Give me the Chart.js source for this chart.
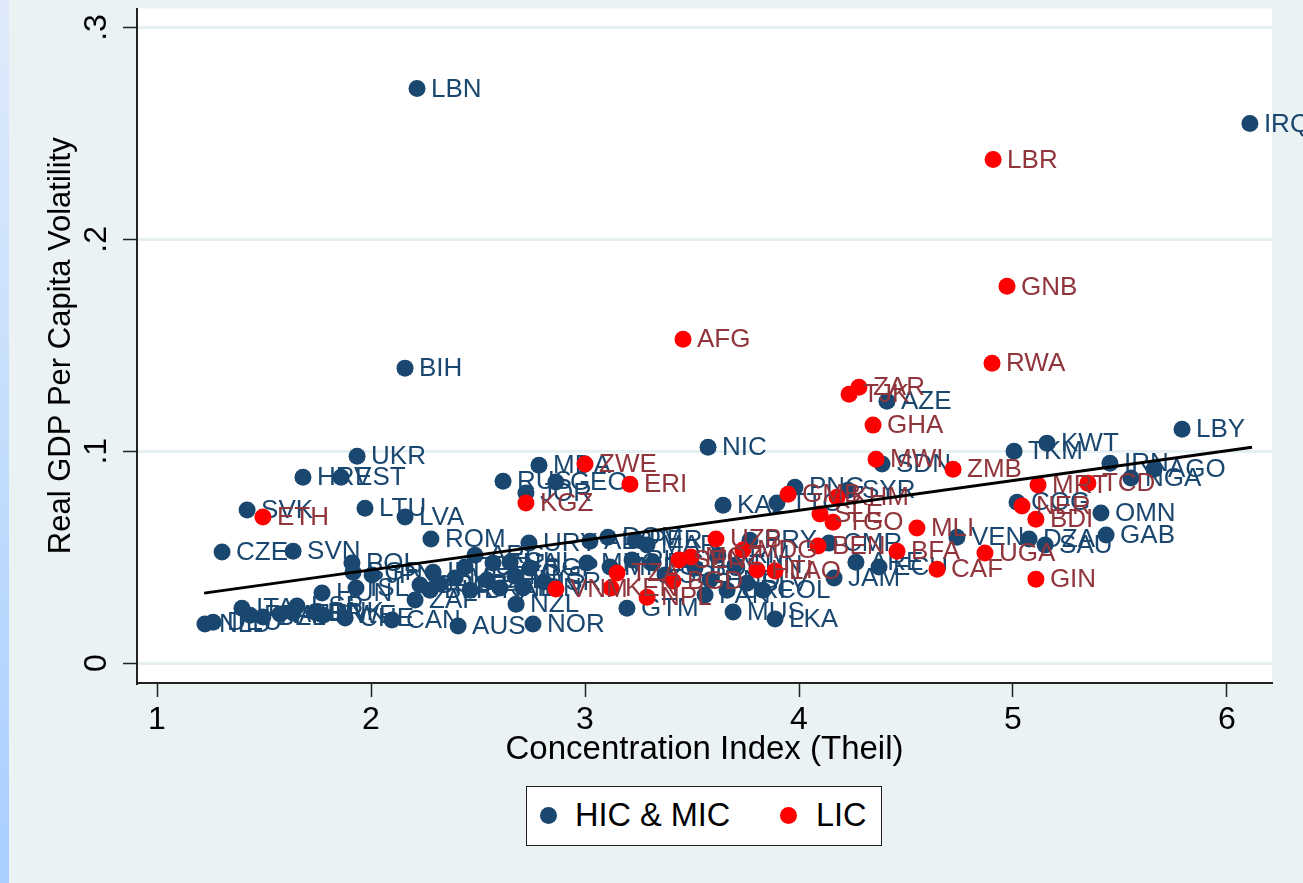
<!DOCTYPE html>
<html>
<head>
<meta charset="utf-8">
<script src="https://cdn.jsdelivr.net/npm/chart.js@4.4.1/dist/chart.umd.min.js"></script>
<style>
  html, body { margin: 0; padding: 0; background: #eaf2f3; }
  #wrap { position: relative; width: 1303px; height: 883px; overflow: hidden; }
  #strip { position: absolute; left: 0; top: 0; width: 9px; height: 883px; background: linear-gradient(#dfebfb, #a8cfff); }
  #legend { position: absolute; left: 526px; top: 786px; width: 356px; height: 60px; box-sizing: border-box;
            background: #fff; border: 1.5px solid #222; font: 32.5px "Liberation Sans", Arial, sans-serif; color: #000; }
  #legend .dot { position: absolute; top: 20px; width: 17px; height: 17px; border-radius: 50%; }
  #legend .txt { position: absolute; top: 9px; line-height: 38px; white-space: nowrap; }
</style>
</head>
<body>
<div id="wrap">
  <canvas id="myChart" width="1303" height="883"></canvas>
  <div id="strip"></div>
  <div id="legend">
    <span class="dot" style="left:13px;background:#1a476f"></span><span class="txt" style="left:48px">HIC &amp; MIC</span>
    <span class="dot" style="left:253px;background:#ff0000"></span><span class="txt" style="left:289px">LIC</span>
  </div>
</div>
<script>
(function () {
  'use strict';

  // HIC & MIC countries
  var micCodes = ['LBN', 'IRQ', 'BIH', 'UKR', 'HRV', 'EST', 'SVK', 'LTU', 'LVA', 'CZE', 'SVN', 'ROM',
    'RUS', 'JOR', 'GEO', 'MDA', 'NIC', 'KAZ', 'TTO', 'PNG', 'SYR', 'AZE', 'SDN', 'TKM', 'KWT', 'LBY',
    'IRN', 'NGA', 'AGO', 'COG', 'OMN', 'GAB', 'DZA', 'SAU', 'VEN', 'CMR', 'ARE', 'ECU', 'JAM', 'LKA',
    'MUS', 'GTM', 'NZL', 'NOR', 'AUS', 'CAN', 'ZAF', 'HUN', 'POL', 'BGR', 'JPN', 'ISL', 'IRL', 'NLD',
    'DEU', 'ITA', 'FRA', 'BEL', 'AUT', 'ESP', 'GBR', 'DNK', 'SWE', 'CHE', 'URY', 'ALB', 'DOM', 'PER',
    'MAR', 'ARG', 'TUR', 'THA', 'CHL', 'SGP', 'GRC', 'CYP', 'MEX', 'BRA', 'CHN', 'IND', 'MYS', 'IDN',
    'ISR', 'BLR', 'MNG', 'MKD', 'PHL', 'EGY', 'SRB', 'BOL', 'HND', 'CRI', 'SLV', 'COL', 'PRY', 'PAN',
    'ARM', 'TUN'];
  var micX = [2.215, 6.107, 2.159, 1.935, 1.682, 1.860, 1.421, 1.972, 2.159, 1.304, 1.636, 2.280,
    2.617, 2.724, 2.864, 2.785, 3.575, 3.645, 3.897, 3.981, 4.229, 4.411, 4.388, 5.005, 5.159, 5.790,
    5.453, 5.551, 5.659, 5.019, 5.411, 5.435, 5.075, 5.150, 4.738, 4.140, 4.266, 4.374, 4.164, 3.888,
    3.692, 3.196, 2.678, 2.757, 2.407, 2.098, 2.206, 1.771, 1.911, 1.916, 2.005, 1.930, 2.290, 1.224,
    1.262, 1.397, 1.435, 1.495, 1.575, 1.654, 1.636, 1.738, 1.776, 1.879, 2.738, 3.023, 3.107, 3.234,
    3.290, 2.486, 2.439, 2.570, 2.650, 2.743, 2.229, 2.322, 2.393, 2.463, 2.542, 2.603, 2.673, 2.710,
    2.808, 2.276, 3.009, 3.117, 3.220, 3.318, 3.374, 3.514, 3.584, 3.664, 3.757, 3.832, 3.771, 3.561,
    3.621, 3.701];
  var micY = [0.2712, 0.2547, 0.1392, 0.0976, 0.0877, 0.0877, 0.0722, 0.0731, 0.0689, 0.0524, 0.0528, 0.0585,
    0.0858, 0.0802, 0.0854, 0.0934, 0.1019, 0.0745, 0.0755, 0.0830, 0.0816, 0.1236, 0.0939, 0.1000, 0.1038, 0.1104,
    0.0943, 0.0873, 0.0915, 0.0759, 0.0708, 0.0604, 0.0585, 0.0557, 0.0594, 0.0566, 0.0476, 0.0453, 0.0401, 0.0208,
    0.0241, 0.0259, 0.0278, 0.0184, 0.0175, 0.0203, 0.0297, 0.0330, 0.0472, 0.0429, 0.0415, 0.0354, 0.0429, 0.0184,
    0.0193, 0.0259, 0.0226, 0.0217, 0.0231, 0.0269, 0.0236, 0.0241, 0.0226, 0.0212, 0.0566, 0.0575, 0.0594, 0.0580,
    0.0557, 0.0509, 0.0453, 0.0472, 0.0476, 0.0448, 0.0368, 0.0373, 0.0401, 0.0344, 0.0392, 0.0354, 0.0410, 0.0354,
    0.0382, 0.0344, 0.0472, 0.0453, 0.0486, 0.0472, 0.0415, 0.0448, 0.0392, 0.0344, 0.0377, 0.0344, 0.0580, 0.0321,
    0.0509, 0.0462];

  // LIC countries
  var licCodes = ['LBR', 'GNB', 'RWA', 'AFG', 'TJK', 'ZAR', 'GHA', 'MWI', 'ZMB', 'ZWE', 'ERI', 'KGZ',
    'ETH', 'MRT', 'TCD', 'NER', 'BDI', 'UGA', 'GIN', 'CAF', 'BFA', 'MLI', 'BEN', 'TGO', 'SLE', 'GMB',
    'KHM', 'VNM', 'KEN', 'TZA', 'NPL', 'BGD', 'SEN', 'MOZ', 'UZB', 'MDG', 'HTI', 'LAO'];
  var licX = [4.907, 4.972, 4.902, 3.458, 4.234, 4.280, 4.346, 4.360, 4.720, 3.000, 3.210, 2.724,
    1.495, 5.117, 5.350, 5.042, 5.107, 4.869, 5.107, 4.645, 4.458, 4.551, 4.089, 4.159, 4.098, 3.949,
    4.178, 2.864, 3.121, 3.150, 3.290, 3.411, 3.439, 3.495, 3.612, 3.738, 3.804, 3.888];
  var licY = [0.2377, 0.1778, 0.1415, 0.1528, 0.1269, 0.1302, 0.1123, 0.0962, 0.0915, 0.0939, 0.0844, 0.0755,
    0.0689, 0.0840, 0.0849, 0.0741, 0.0679, 0.0519, 0.0396, 0.0443, 0.0528, 0.0637, 0.0552, 0.0665, 0.0703, 0.0797,
    0.0783, 0.0349, 0.0354, 0.0425, 0.0311, 0.0387, 0.0486, 0.0500, 0.0585, 0.0533, 0.0439, 0.0434];

  // fitted line (ends)
  var fitX = [1.22, 6.117];
  var fitY = [0.0330, 0.1019];

  var xTicks = [1, 2, 3, 4, 5, 6];
  var xTickLabels = ['1', '2', '3', '4', '5', '6'];
  var yTicks = [0, 0.1, 0.2, 0.3];
  var yTickLabels = ['0', '.1', '.2', '.3'];

  var navy = '#1a476f';
  var maroon = '#90353b';
  var fontFamily = '"Liberation Sans", Arial, Helvetica, sans-serif';

  function toPoints(xs, ys) {
    return xs.map(function (x, i) { return { x: x, y: ys[i] }; });
  }

  var labelSets = { 0: { codes: micCodes, color: navy }, 1: { codes: licCodes, color: maroon } };

  var plotBg = {
    id: 'plotBg',
    beforeDraw: function (chart) {
      var a = chart.chartArea;
      chart.ctx.save();
      chart.ctx.fillStyle = '#ffffff';
      chart.ctx.fillRect(a.left, a.top, a.right - a.left, a.bottom - a.top);
      chart.ctx.restore();
    }
  };

  var pointLabels = {
    id: 'pointLabels',
    afterDatasetDraw: function (chart, args) {
      var set = labelSets[args.index];
      if (!set) return;
      var ctx = chart.ctx;
      ctx.save();
      ctx.font = '26px ' + fontFamily;
      ctx.fillStyle = set.color;
      ctx.textBaseline = 'middle';
      ctx.textAlign = 'left';
      args.meta.data.forEach(function (pt, i) {
        ctx.fillText(set.codes[i], pt.x + 14, pt.y + 1);
      });
      ctx.restore();
    }
  };

  Chart.defaults.font.family = fontFamily;
  Chart.defaults.color = '#000';

  var ctx = document.getElementById('myChart').getContext('2d');
  var myChart = new Chart(ctx, {
    type: 'scatter',
    data: {
      datasets: [{
        label: 'HIC & MIC',
        data: toPoints(micX, micY),
        backgroundColor: navy,
        pointRadius: 8.5,
        pointBorderWidth: 0,
        order: 3
      }, {
        label: 'LIC',
        data: toPoints(licX, licY),
        backgroundColor: '#ff0000',
        pointRadius: 8.5,
        pointBorderWidth: 0,
        order: 2
      }, {
        label: 'Fitted values',
        data: toPoints(fitX, fitY),
        showLine: true,
        borderColor: '#000',
        borderWidth: 3,
        pointRadius: 0,
        order: 1
      }]
    },
    options: {
      responsive: false,
      animation: false,
      events: [],
      layout: { padding: { left: 0, right: 31, top: 8, bottom: 100 } },
      plugins: {
        legend: { display: false },
        tooltip: { enabled: false }
      },
      scales: {
        x: {
          type: 'linear',
          min: 0.9065,
          max: 6.2103,
          afterBuildTicks: function (s) { s.ticks = xTicks.map(function (v) { return { value: v }; }); },
          afterFit: function (s) { s.height = 100; s.paddingLeft = 0; s.paddingRight = 0; },
          ticks: {
            callback: function (v, i) { return xTickLabels[i]; },
            font: { size: 32 },
            color: '#000',
            padding: 4,
            maxRotation: 0,
            autoSkip: false
          },
          grid: { drawOnChartArea: false, tickLength: 14, tickColor: '#222', tickWidth: 1.5 },
          border: { color: '#222', width: 2 },
          title: {
            display: true,
            text: 'Concentration Index (Theil)',
            font: { size: 33 },
            color: '#000',
            padding: { top: 0, bottom: 13 }
          }
        },
        y: {
          type: 'linear',
          min: -0.00943,
          max: 0.30896,
          afterBuildTicks: function (s) { s.ticks = yTicks.map(function (v) { return { value: v }; }); },
          afterFit: function (s) { s.width = 137; s.paddingTop = 0; s.paddingBottom = 0; },
          ticks: {
            callback: function (v, i) { return yTickLabels[i]; },
            font: { size: 32 },
            color: '#000',
            padding: 12,
            minRotation: 90,
            maxRotation: 90,
            crossAlign: 'center'
          },
          grid: { color: '#e6eff1', lineWidth: 3, tickLength: 14, tickColor: '#222', tickWidth: 1.5 },
          border: { color: '#222', width: 2 },
          title: {
            display: true,
            text: 'Real GDP Per Capita Volatility',
            font: { size: 31 },
            color: '#000',
            padding: { top: 43, bottom: 0 }
          }
        }
      }
    },
    plugins: [plotBg, pointLabels]
  });
})();
</script>
</body>
</html>
